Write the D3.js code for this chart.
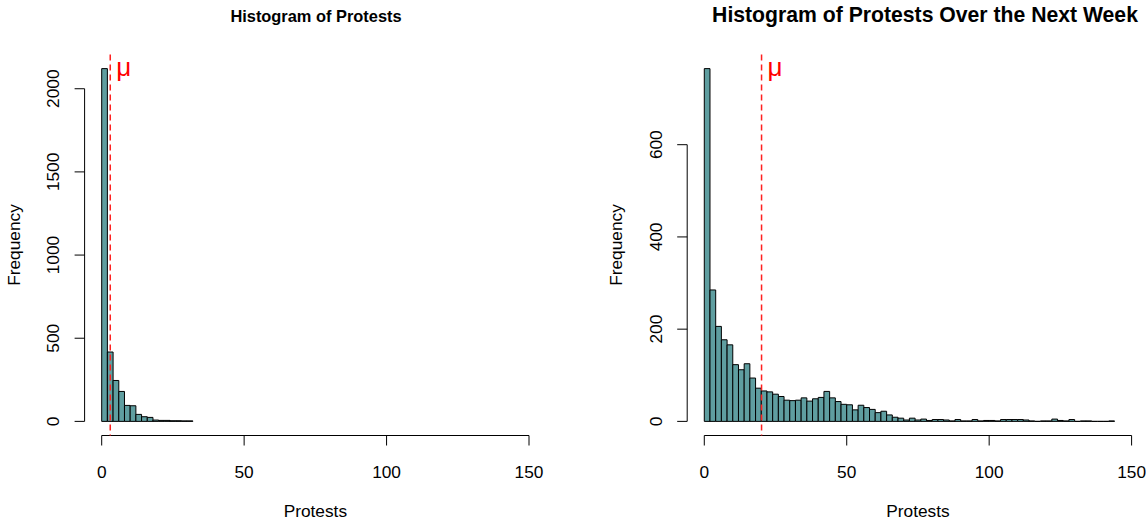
<!DOCTYPE html>
<html>
<head>
<meta charset="utf-8">
<script src="https://cdn.jsdelivr.net/npm/d3@7"></script>
<style>
  html, body { margin: 0; padding: 0; background: #ffffff; }
  svg { display: block; font-family: "Liberation Sans", Arial, Helvetica, sans-serif; }
</style>
</head>
<body>
<svg id="chart" width="1146" height="522"></svg>
<script>
// Histogram bins are 2 protests wide, starting at 0
const binWidth = 2;

// Daily protest counts per bin: [0,2), [2,4), ...
const protestCounts = [2121, 417, 246, 180, 96, 94, 42, 28, 24, 8, 6, 6, 4, 4, 3, 3];

// Protests over the next week, per bin: [0,2), [2,4), ... up to 144
const weekCounts = [
  765, 285, 206, 177, 166, 123, 112, 125, 94, 72,
  66, 64, 59, 54, 46, 45, 46, 51, 44, 49,
  52, 65, 51, 43, 37, 36, 25, 35, 30, 26,
  19, 22, 14, 9, 7, 3, 7, 3, 5, 2,
  4, 4, 3, 1, 4, 1, 1, 4, 1, 2,
  2, 1, 4, 4, 4, 4, 3, 1, 0, 1,
  1, 5, 2, 1, 4, 0, 1, 1, 0, 0,
  0, 1
];

// Sample means marked with a dashed line
const protestMean = 3.0;
const weekMean = 20.1;

// Axis ticks
const xTicks = [0, 50, 100, 150];
const protestYTicks = [0, 500, 1000, 1500, 2000];
const weekYTicks = [0, 200, 400, 600];

const titles = ["Histogram of Protests", "Histogram of Protests Over the Next Week"];
const xLabel = "Protests";
const yLabel = "Frequency";

const svg = d3.select("#chart");

const panels = [
  { counts: protestCounts, mean: protestMean, yTicks: protestYTicks, title: titles[0],
    left: 84.6, right: 546.1, titleX: 316, titleSize: 16.4 },
  { counts: weekCounts, mean: weekMean, yTicks: weekYTicks, title: titles[1],
    left: 687.2, right: 1148.7, titleX: 925, titleSize: 21.2 }
];

const plotTop = 54.5, plotBottom = 435.5;
const fontSize = 17.3;

panels.forEach(p => {
  const bins = p.counts.map((c, i) => ({ x0: i * binWidth, x1: (i + 1) * binWidth, n: c }));
  const ymax = d3.max(p.counts);

  // R-style 4% padding around the data ranges
  const x = d3.scaleLinear().domain([-6, 156]).range([p.left, p.right]);
  const y = d3.scaleLinear().domain([-0.04 * ymax, 1.04 * ymax]).range([plotBottom, plotTop]);

  const g = svg.append("g");

  // bars as closed paths so empty bins still draw a flat outline
  g.append("g").selectAll("path").data(bins).join("path")
    .attr("d", d => {
      const xa = x(d.x0), xb = x(d.x1), y0 = y(0), y1 = y(d.n);
      return `M${xa},${y0}V${y1}H${xb}V${y0}Z`;
    })
    .attr("fill", "#5f9ea0")
    .attr("stroke", "#000000")
    .attr("stroke-width", 1);

  // x axis: line from first to last tick, ticks outward
  const xa = g.append("g").attr("transform", `translate(0,${plotBottom})`);
  xa.append("line")
    .attr("x1", x(xTicks[0])).attr("x2", x(xTicks[xTicks.length - 1]))
    .attr("stroke", "#000").attr("stroke-width", 1);
  xa.selectAll("line.tick").data(xTicks).join("line").attr("class", "tick")
    .attr("x1", d => x(d)).attr("x2", d => x(d))
    .attr("y1", 0).attr("y2", 10)
    .attr("stroke", "#000").attr("stroke-width", 1);
  xa.selectAll("text").data(xTicks).join("text")
    .attr("x", d => x(d)).attr("y", 42.5)
    .attr("text-anchor", "middle")
    .attr("font-size", fontSize)
    .text(d => d);

  // y axis
  const ya = g.append("g").attr("transform", `translate(${p.left},0)`);
  ya.append("line")
    .attr("y1", y(p.yTicks[0])).attr("y2", y(p.yTicks[p.yTicks.length - 1]))
    .attr("stroke", "#000").attr("stroke-width", 1);
  ya.selectAll("line.tick").data(p.yTicks).join("line").attr("class", "tick")
    .attr("y1", d => y(d)).attr("y2", d => y(d))
    .attr("x1", 0).attr("x2", -10)
    .attr("stroke", "#000").attr("stroke-width", 1);
  ya.selectAll("text").data(p.yTicks).join("text")
    .attr("transform", d => `translate(-25.5,${y(d)}) rotate(-90)`)
    .attr("text-anchor", "middle")
    .attr("font-size", fontSize)
    .text(d => d);

  // axis titles
  g.append("text")
    .attr("x", (x(xTicks[0]) + x(xTicks[xTicks.length - 1])) / 2)
    .attr("y", 517)
    .attr("text-anchor", "middle")
    .attr("font-size", fontSize)
    .text(xLabel);
  g.append("text")
    .attr("transform", `translate(${p.left - 65},${(plotTop + plotBottom) / 2}) rotate(-90)`)
    .attr("text-anchor", "middle")
    .attr("font-size", fontSize)
    .text(yLabel);

  // main title
  g.append("text")
    .attr("x", p.titleX).attr("y", 22)
    .attr("text-anchor", "middle")
    .attr("font-size", p.titleSize)
    .attr("font-weight", "bold")
    .text(p.title);

  // mean line and label
  g.append("line")
    .attr("x1", x(p.mean)).attr("x2", x(p.mean))
    .attr("y1", plotTop).attr("y2", plotBottom)
    .attr("stroke", "#ff2020")
    .attr("stroke-width", 1.5)
    .attr("stroke-dasharray", "6,4");
  g.append("text")
    .attr("x", x(p.mean) + 6).attr("y", 76)
    .attr("fill", "#ff0000")
    .attr("font-size", 26)
    .text("\u03bc");
});
</script>
</body>
</html>
